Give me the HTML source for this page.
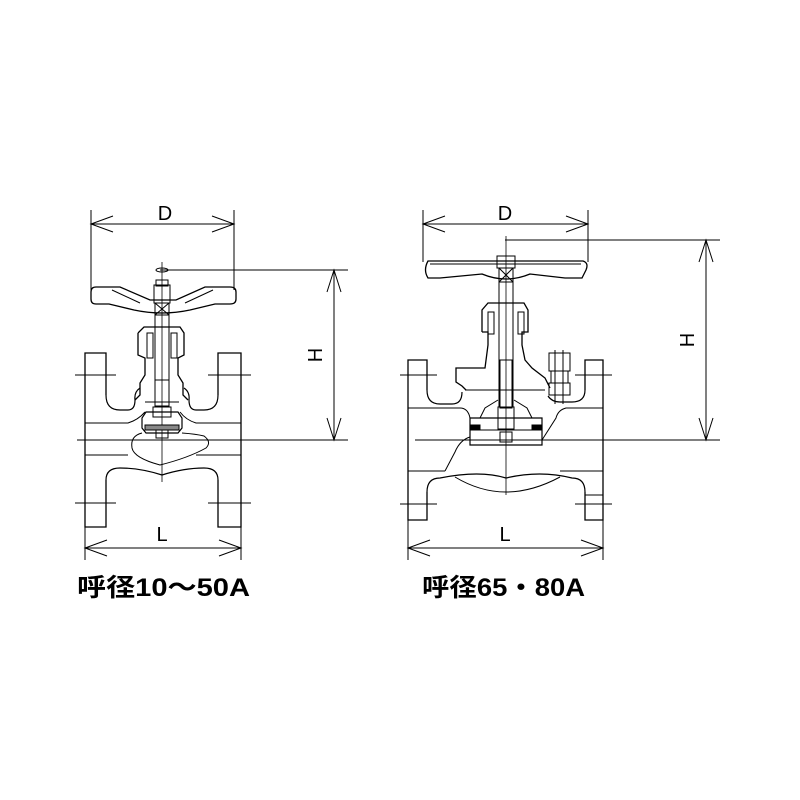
<!DOCTYPE html>
<html><head><meta charset="utf-8"><style>
html,body{margin:0;padding:0;background:#fff;}
svg{display:block;}
text{font-family:"Liberation Sans","Noto Sans CJK JP",sans-serif;}
</style></head><body>
<svg width="800" height="800" viewBox="0 0 800 800" xmlns="http://www.w3.org/2000/svg">
<g fill="none" stroke="#000" stroke-width="1">
<!-- ========== LEFT VALVE ========== -->
<line x1="91" y1="210" x2="91" y2="290"/><line x1="234" y1="210" x2="234" y2="290"/>
<line x1="91" y1="224" x2="234" y2="224"/>
<polyline points="113,216 91,224 113,232"/><polyline points="212,216 234,224 212,232"/>
<line x1="160" y1="270" x2="348" y2="270"/>
<line x1="77" y1="440" x2="348" y2="440"/>
<line x1="334" y1="270" x2="334" y2="440"/>
<polyline points="327,292 334,270 341,292"/><polyline points="327,418 334,440 341,418"/>
<!-- handwheel -->
<path d="M96,287 H120 L150,300 H176 L205,287 H230 Q236,287 236,292 V299 Q236,304 230,304 H215 L190,310 Q162,316 134,310 L109,304 H96 Q91,304 91,299 V292 Q91,287 96,287 Z" stroke-width="1.3"/>
<path d="M112,290 L140,303 M213,290 L185,303"/>
<ellipse cx="162" cy="270" rx="6" ry="2"/>
<line x1="162" y1="262" x2="162" y2="482" stroke-width="0.8"/>
<rect x="154" y="285" width="16" height="18"/>
<rect x="156" y="280" width="12" height="6"/>
<rect x="155" y="303" width="14" height="12"/>
<path d="M155,303 L169,315 M169,303 L155,315"/>
<line x1="155" y1="315" x2="155" y2="380"/><line x1="169" y1="315" x2="169" y2="380"/>
<!-- bonnet -->
<path d="M138,333 L144,327 H180 L184,333 V355 L178,358 V375 L183,383 V395 L188,400 M138,333 V355 L145,358 V375 L140,383 V395 L135,400" stroke-width="1.3"/>
<rect x="147" y="333" width="6" height="25"/><rect x="171" y="333" width="6" height="25"/>
<rect x="155" y="380" width="14" height="26"/>
<line x1="145" y1="402" x2="179" y2="402"/>
<!-- disc -->
<path d="M146,412 H178 L182,418 V428 L178,433 H146 L142,428 V418 Z" stroke-width="1.2"/>
<rect x="145" y="425" width="34" height="5" fill="#888"/>
<rect x="156" y="430" width="12" height="8"/>
<rect x="153" y="407" width="18" height="10"/>
<!-- flanges -->
<path d="M106,395 V353 H85 V527 H106 V480" stroke-width="1.3"/>
<path d="M218,395 V353 H241 V527 H218 V480" stroke-width="1.3"/>
<path d="M106,395 Q106,410 120,410 H128 Q135,410 135,400 Q134,392 140,388" stroke-width="1.2"/>
<path d="M218,395 Q218,410 204,410 H196 Q189,410 189,400 Q190,392 184,388" stroke-width="1.2"/>
<path d="M106,480 Q106,468 120,468 Q140,468 162,475 Q184,468 204,468 Q218,468 218,480" stroke-width="1.2"/>
<path d="M85,423 H128 Q138,420 145,412 M241,423 H196 Q186,420 180,412"/>
<path d="M85,455 H128 M241,455 H196"/>
<path d="M142,433 Q130,436 132,448 Q134,458 160,465 Q188,458 206,448 Q212,442 204,436 Q196,434 182,433"/>
<line x1="75" y1="375" x2="116" y2="375"/><line x1="208" y1="375" x2="251" y2="375"/>
<line x1="75" y1="503" x2="116" y2="503"/><line x1="208" y1="503" x2="251" y2="503"/>
<line x1="85" y1="527" x2="85" y2="560"/><line x1="241" y1="527" x2="241" y2="560"/>
<line x1="85" y1="548" x2="241" y2="548"/>
<polyline points="107,540 85,548 107,556"/><polyline points="219,540 241,548 219,556"/>

<!-- ========== RIGHT VALVE ========== -->
<line x1="423" y1="210" x2="423" y2="262"/><line x1="588" y1="210" x2="588" y2="262"/>
<line x1="423" y1="224" x2="588" y2="224"/>
<polyline points="445,216 423,224 445,232"/><polyline points="566,216 588,224 566,232"/>
<line x1="505" y1="240" x2="720" y2="240"/>
<line x1="415" y1="440" x2="720" y2="440"/>
<line x1="706" y1="240" x2="706" y2="440"/>
<polyline points="699,262 706,240 713,262"/><polyline points="699,418 706,440 713,418"/>
<line x1="506" y1="236" x2="506" y2="495" stroke-width="0.8"/>
<path d="M428,261 H583 Q589,263 586,270 L582,278 H565 L530,274 Q506,284 482,274 L440,278 H428 Q423,270 428,261 Z" stroke-width="1.3"/>
<path d="M430,264 H581"/>
<rect x="497" y="256" width="18" height="12"/>
<rect x="499" y="268" width="14" height="14"/>
<path d="M499,268 L513,282 M513,268 L499,282"/>
<line x1="499" y1="282" x2="499" y2="407"/><line x1="513" y1="282" x2="513" y2="407"/>
<path d="M482,332 V310 L488,303 H524 L528,310 V332 H522 V345 L525,360 L532,368 L545,378 L550,388" stroke-width="1.3"/>
<path d="M482,332 H488 V345 L485,368 H456 V382 L462,386 L466,390" stroke-width="1.3"/>
<rect x="488" y="312" width="6" height="22"/><rect x="518" y="312" width="6" height="22"/>
<rect x="500" y="360" width="12" height="48"/>
<rect x="498" y="407" width="16" height="22"/>
<path d="M480,418 L485,408 L498,400 M532,418 L527,408 L514,400"/>
<line x1="465" y1="390" x2="545" y2="390"/>
<rect x="549" y="353" width="21" height="18"/><rect x="551" y="371" width="17" height="12"/>
<rect x="549" y="383" width="21" height="12"/>
<line x1="555" y1="350" x2="555" y2="404"/><line x1="563" y1="350" x2="563" y2="404"/>
<path d="M470,418 H542 V445 H470 Z" stroke-width="1.2"/>
<rect x="470" y="425" width="10" height="5" fill="#000"/><rect x="532" y="425" width="10" height="5" fill="#000"/>
<line x1="478" y1="430" x2="534" y2="430"/>
<rect x="500" y="432" width="12" height="10"/>
<path d="M427,390 V360 H408 V520 H427 V492" stroke-width="1.3"/>
<path d="M585,390 V360 H603 V520 H585 V492" stroke-width="1.3"/>
<path d="M427,390 Q427,404 440,404 H452 Q462,404 462,392" stroke-width="1.2"/>
<path d="M585,390 Q585,402 572,402 H560 Q552,402 548,396" stroke-width="1.2"/>
<path d="M427,492 Q427,478 440,478 Q480,470 506,478 Q540,470 572,478 Q585,478 585,492" stroke-width="1.2"/>
<path d="M408,408 H460 Q468,408 470,418 M603,408 H566 Q558,410 556,418 L542,440"/>
<path d="M408,471 H445 M603,471 H560"/>
<path d="M470,437 Q460,440 455,452 L445,471"/>
<path d="M455,477 Q480,492 506,492 Q532,492 560,477"/>
<line x1="400" y1="375" x2="437" y2="375"/><line x1="575" y1="375" x2="612" y2="375"/>
<line x1="400" y1="504" x2="437" y2="504"/><line x1="575" y1="504" x2="612" y2="504"/>
<rect x="585" y="495" width="18" height="25"/>
<line x1="408" y1="520" x2="408" y2="560"/><line x1="603" y1="520" x2="603" y2="560"/>
<line x1="408" y1="548" x2="603" y2="548"/>
<polyline points="430,540 408,548 430,556"/><polyline points="581,540 603,548 581,556"/>
</g>
<g font-size="20" fill="#000">
<text x="165" y="220" text-anchor="middle">D</text>
<text x="505" y="220" text-anchor="middle">D</text>
<text x="162" y="541" text-anchor="middle">L</text>
<text x="505" y="541" text-anchor="middle">L</text>
<text transform="translate(322,355) rotate(-90)" text-anchor="middle">H</text>
<text transform="translate(694,340) rotate(-90)" text-anchor="middle">H</text>
</g>
<g font-size="25" font-weight="bold" fill="#000">
<text x="77" y="596" textLength="173" lengthAdjust="spacingAndGlyphs">呼径10〜50A</text>
<text x="422" y="596" textLength="163" lengthAdjust="spacingAndGlyphs">呼径65・80A</text>
</g>
</svg>
</body></html>
